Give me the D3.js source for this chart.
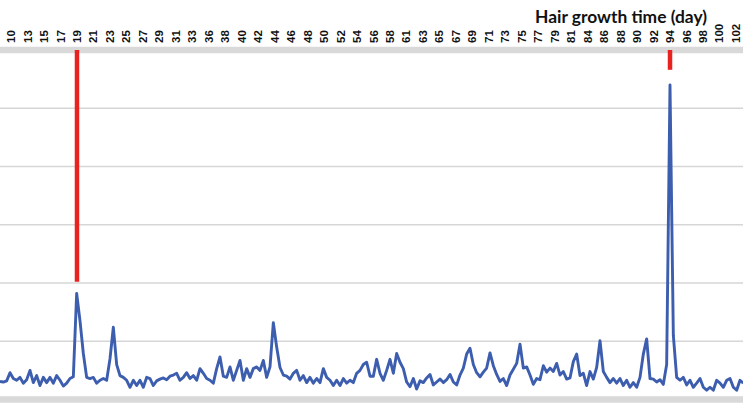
<!DOCTYPE html>
<html>
<head>
<meta charset="utf-8">
<script src="https://cdn.jsdelivr.net/npm/d3@7"></script>
<style>
  body { margin: 0; background: #fff; }
  svg { display: block; }
</style>
</head>
<body>
<svg width="743" height="406"></svg>
<script>
// hair growth signal

// category labels shown on the top axis (day)
var tickLabels = ["10", "13", "15", "17", "19", "21", "23", "25", "27", "29",
    "31", "33", "36", "38", "40", "42", "44", "46", "48", "50",
    "52", "54", "56", "58", "61", "63", "65", "67", "69", "71",
    "73", "75", "77", "79", "81", "84", "86", "88", "90", "92",
    "94", "96", "98", "100", "102"];

// the measured signal, evenly spaced samples from left to right
var signal = [
    3.1, 3.0, 3.2, 4.6, 3.6, 3.3, 3.8, 2.8, 3.4, 5.0,
    2.9, 4.1, 2.4, 3.8, 2.9, 3.8, 2.8, 4.1, 3.3, 2.3,
    2.8, 3.6, 3.9, 18.2, 13.5, 7.9, 3.8, 3.6, 3.8, 2.8,
    3.3, 3.6, 3.3, 7.0, 12.4, 6.0, 4.1, 3.8, 3.3, 2.1,
    3.3, 2.4, 3.3, 2.1, 3.8, 3.6, 2.4, 3.2, 3.5, 3.7,
    3.4, 4.0, 4.2, 4.5, 3.3, 3.8, 4.6, 3.6, 4.1, 3.3,
    5.3, 4.5, 3.6, 3.3, 2.8, 5.3, 7.3, 4.0, 3.8, 5.6,
    3.3, 5.0, 6.7, 3.3, 5.3, 3.8, 5.3, 5.6, 5.0, 6.7,
    3.8, 5.6, 13.2, 9.0, 5.5, 4.2, 4.0, 3.5, 4.5, 5.0,
    3.3, 4.1, 2.9, 3.8, 2.8, 3.6, 2.9, 5.3, 3.8, 3.3,
    2.4, 3.3, 2.4, 3.6, 2.8, 3.3, 2.9, 4.5, 5.0, 6.0,
    6.4, 4.0, 4.0, 6.9, 4.5, 3.3, 5.0, 6.9, 4.5, 7.9,
    6.4, 5.3, 3.0, 2.2, 3.6, 1.8, 3.2, 2.9, 3.7, 4.3,
    2.5, 3.0, 3.5, 2.9, 3.4, 4.3, 3.0, 2.5, 4.2, 5.4,
    7.8, 8.8, 6.0, 4.6, 3.9, 4.7, 5.4, 8.0, 5.8, 4.3,
    3.1, 3.6, 2.4, 4.2, 5.2, 6.2, 9.5, 5.4, 5.6, 4.2,
    2.6, 3.6, 3.4, 5.8, 4.7, 5.4, 4.8, 6.2, 4.2, 4.8,
    3.5, 3.7, 6.5, 7.8, 4.1, 4.5, 2.4, 4.8, 3.5, 5.5,
    10.1, 4.8, 3.8, 2.9, 3.6, 2.8, 3.6, 2.4, 3.3, 2.1,
    2.9, 2.1, 3.8, 7.8, 10.4, 3.6, 3.5, 3.0, 3.4, 2.6,
    6.0, 54.0, 11.0, 3.8, 3.3, 3.8, 2.5, 3.3, 2.1, 2.8,
    3.6, 2.1, 1.6, 2.1, 1.6, 3.3, 2.8, 2.1, 3.3, 3.6,
    2.1, 1.6, 3.3, 2.8
];

// red marker lines: category and how far down they reach
var markerDays = ["19", "94"];
var markerLows = [20.2, 56.6];

var gridValues = [10, 20, 30, 40, 50];

var svg = d3.select("svg");
var width = +svg.attr("width");
var height = +svg.attr("height");

// scales
var xIndex = d3.scaleLinear()
    .domain([0, signal.length - 1])
    .range([0, (signal.length - 1) * 10 / 3]);

var xLabel = d3.scalePoint()
    .domain(tickLabels)
    .range([11.1, 735.9]);

var yScale = d3.scaleLinear()
    .domain([0, 60])
    .range([399.5, 50]);

// gridlines
svg.append("g")
    .selectAll("line")
    .data(gridValues)
    .enter()
    .append("line")
    .attr("x1", 0)
    .attr("x2", width)
    .attr("y1", function (d) { return yScale(d); })
    .attr("y2", function (d) { return yScale(d); })
    .attr("stroke", "#d6d6d6")
    .attr("stroke-width", 1.6);

// the signal line
var line = d3.line()
    .x(function (d, i) { return xIndex(i); })
    .y(function (d) { return yScale(d); });

svg.append("path")
    .datum(signal)
    .attr("d", line)
    .attr("fill", "none")
    .attr("stroke", "#3d5eae")
    .attr("stroke-width", 2.9)
    .attr("stroke-linejoin", "round");

// thick grey axis bands top and bottom
svg.append("g")
    .selectAll("line")
    .data([60, 0])
    .enter()
    .append("line")
    .attr("x1", 0)
    .attr("x2", width)
    .attr("y1", function (d) { return yScale(d); })
    .attr("y2", function (d) { return yScale(d); })
    .attr("stroke", "#d9d9d9")
    .attr("stroke-width", 6.5);

// red markers
svg.append("g")
    .selectAll("line")
    .data(markerDays)
    .enter()
    .append("line")
    .attr("x1", function (d) { return xLabel(d); })
    .attr("x2", function (d) { return xLabel(d); })
    .attr("y1", yScale(60))
    .attr("y2", function (d, i) { return yScale(markerLows[i]); })
    .attr("stroke", "#e8221f")
    .attr("stroke-width", 4.5);

// top axis labels, rotated, reading upwards from the band
svg.append("g")
    .selectAll("text")
    .data(tickLabels)
    .enter()
    .append("text")
    .attr("transform", function (d) {
        return "translate(" + xLabel(d) + ",43) rotate(-90)";
    })
    .attr("text-anchor", "start")
    .attr("dy", "0.35em")
    .style("font-family", "'Liberation Sans', Arial, sans-serif")
    .style("font-weight", "bold")
    .style("font-size", "11.5px")
    .attr("fill", "#111")
    .text(function (d) { return d; });

// axis title
svg.append("text")
    .attr("x", 535)
    .attr("y", 23)
    .attr("textLength", 172)
    .attr("lengthAdjust", "spacingAndGlyphs")
    .style("font-family", "Lato, 'Open Sans', sans-serif")
    .style("font-weight", "bold")
    .style("font-size", "16.5px")
    .attr("fill", "#111")
    .text("Hair growth time (day)");
</script>
</body>
</html>
